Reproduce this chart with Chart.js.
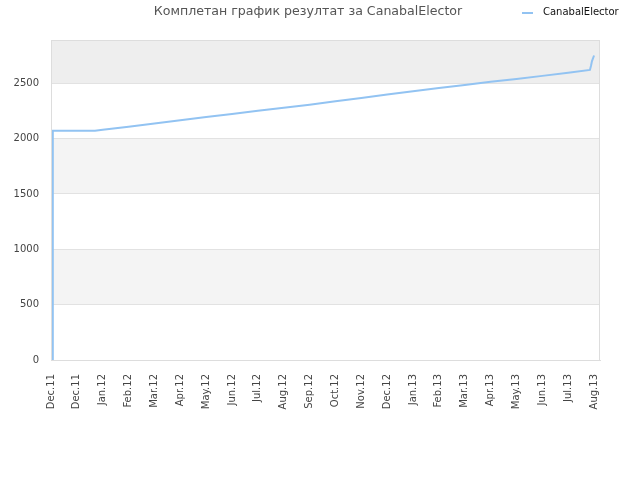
<!DOCTYPE html>
<html>
<head>
<meta charset="utf-8">
<script src="https://cdn.jsdelivr.net/npm/chart.js@4"></script>
<style>
  body { margin: 0; background: #fff; }
  #wrap { width: 640px; height: 480px; }
</style>
</head>
<body>
<div id="wrap"><canvas id="grafik"></canvas></div>
<script>
// Oznake na x osi (jedna po mesecu)
const mesecnaOznaka = ["Dec.11", "Dec.11", "Jan.12", "Feb.12", "Mar.12", "Apr.12", "May.12",
  "Jun.12", "Jul.12", "Aug.12", "Sep.12", "Oct.12", "Nov.12", "Dec.12", "Jan.13", "Feb.13",
  "Mar.13", "Apr.13", "May.13", "Jun.13", "Jul.13", "Aug.13"];

// Položaj tačke na x osi (u jedinicama oznaka) i rezultat
const polozaj = [0.06, 0.07, 1, 1.7, 2, 3, 4, 5, 6, 7, 8, 9, 10, 11, 12, 13, 14, 15, 16, 17, 18, 19, 20, 20.84, 20.88, 20.92, 21.0];
const rezultat = [0, 2070, 2070, 2070, 2079, 2107, 2136, 2165, 2194, 2222, 2250, 2278, 2306, 2336, 2366,
  2397, 2427, 2456, 2484, 2512, 2537, 2566, 2595, 2620, 2655, 2700, 2750];

const yOznake = [0, 500, 1000, 1500, 2000, 2500];
const naslov = "Комплетан график резултат за CanabalElector";
const igrac = "CanabalElector";

const tacke = polozaj.map((x, i) => ({ x: x, y: rezultat[i] }));

// Sive trake u pozadini, okvir, naslov i legenda
const trake = {
  id: "trake",
  beforeDraw(chart) {
    const { ctx, chartArea, scales } = chart;
    const y = scales.y;
    const pojas = [[500, 1000, "#f4f4f4"], [1500, 2000, "#f4f4f4"], [2500, y.max, "#eeeeee"]];
    ctx.save();
    pojas.forEach(([od, doo, boja]) => {
      const y1 = y.getPixelForValue(doo);
      const y2 = y.getPixelForValue(od);
      ctx.fillStyle = boja;
      ctx.fillRect(chartArea.left, y1, chartArea.right - chartArea.left, y2 - y1);
    });
    ctx.restore();
  },
  afterDraw(chart) {
    const { ctx, chartArea } = chart;
    ctx.save();
    ctx.strokeStyle = "#dddddd";
    ctx.lineWidth = 1;
    ctx.strokeRect(chartArea.left + 0.5, chartArea.top + 0.5,
      chartArea.right - chartArea.left - 1, chartArea.bottom - chartArea.top);
    // naslov
    ctx.fillStyle = "#555";
    ctx.font = "12.6px 'DejaVu Sans'";
    ctx.textAlign = "center";
    ctx.textBaseline = "middle";
    ctx.fillText(naslov, 308, 12);
    // legenda
    const ds = chart.data.datasets[0];
    ctx.strokeStyle = ds.borderColor;
    ctx.lineWidth = 2;
    ctx.beginPath();
    ctx.moveTo(522, 13);
    ctx.lineTo(533, 13);
    ctx.stroke();
    ctx.fillStyle = "#111";
    ctx.font = "10px 'DejaVu Sans'";
    ctx.textAlign = "left";
    ctx.fillText(ds.label, 543, 12);
    ctx.restore();
  }
};

new Chart(document.getElementById("grafik"), {
  type: "line",
  data: {
    datasets: [{
      label: igrac,
      data: tacke,
      borderColor: "#92c3f2",
      borderWidth: 2,
      pointRadius: 0,
      tension: 0,
      fill: false
    }]
  },
  options: {
    responsive: true,
    maintainAspectRatio: false,
    animation: false,
    layout: { padding: { left: 0, right: 40, top: 40, bottom: 0 } },
    plugins: {
      legend: { display: false },
      tooltip: { enabled: false },
      title: { display: false }
    },
    scales: {
      x: {
        type: "linear",
        min: 0,
        max: 21.23,
        afterFit(scale) { scale.height = 120; },
        afterBuildTicks(scale) { scale.ticks = mesecnaOznaka.map((t, i) => ({ value: i })); },
        grid: { display: false },
        border: { color: "#dddddd" },
        ticks: {
          autoSkip: false,
          minRotation: 90,
          maxRotation: 90,
          padding: 6,
          color: "#444",
          font: { family: "DejaVu Sans", size: 10 },
          callback: v => mesecnaOznaka[v]
        }
      },
      y: {
        min: 0,
        max: 2890,
        afterFit(scale) { scale.width = 51; },
        afterBuildTicks(scale) { scale.ticks = yOznake.map(v => ({ value: v })); },
        grid: { color: "#e2e2e2", drawTicks: false },
        border: { color: "#dddddd" },
        ticks: {
          padding: 12,
          color: "#444",
          font: { family: "DejaVu Sans", size: 10 },
          callback: v => String(v)
        }
      }
    }
  },
  plugins: [trake]
});
</script>
</body>
</html>
